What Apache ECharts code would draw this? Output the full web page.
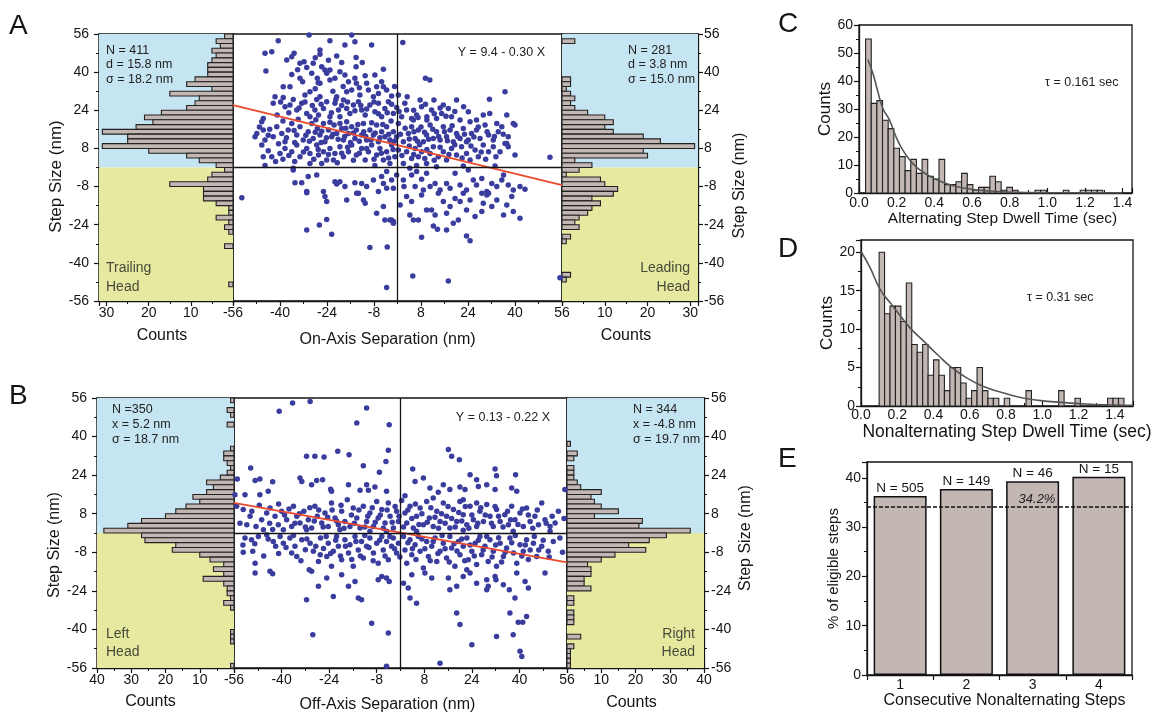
<!DOCTYPE html>
<html><head><meta charset="utf-8">
<script src="https://cdn.jsdelivr.net/npm/echarts@6/dist/echarts.min.js"></script>
<style>html,body{margin:0;padding:0;background:#fff}#c{width:1159px;height:715px}</style>
</head><body><div id="c"></div>
<script>
// ---------------- DATA ----------------
const stepTicks = [-56,-40,-24,-8,8,24,40,56];
const stepBinWidth = 2;
const stepBinCenters = [55,53,51,49,47,45,43,41,39,37,35,33,31,29,27,25,23,21,19,17,15,13,11,9,7,5,3,1,-1,-3,-5,-7,-9,-11,-13,-15,-17,-19,-21,-23,-25,-27,-29,-31,-33,-35,-37,-39,-41,-43,-45,-47,-49,-51,-53,-55];
const countsTrailingHead = [2,4,3,5,4,5,6,6,6,9, 11,5,15,8,9,11,17,21,19,23, 31,25,25,31,20,11,8,4,2,5, 6,15,7,7,7,4,1,1,4,1, 2,1,0,0,2,0,0,0,0,0, 0,0,1,0,0,0];
const countsLeadingHead = [0,3,0,0,0,0,0,0,0,2, 2,1,2,3,2,3,6,10,12,10, 12,19,23,31,19,20,3,7,4,1, 9,10,13,12,7,9,7,6,4,3, 4,0,2,1,0,0,0,0,0,0, 2,1,0,0,0,0];
const countsLeftHead = [1,0,2,1,0,2,0,0,0,0, 1,3,3,2,1,2,4,8,6,8, 12,10,14,17,20,27,31,38,27,26, 17,18,10,7,3,6,3,9,3,2, 2,1,3,1,0,0,0,0,1,1, 1,0,0,0,0,1];
const countsRightHead = [0,0,0,0,0,0,0,0,0,1, 0,3,2,0,2,2,2,3,4,10, 7,8,10,15,8,22,21,36,29,24, 18,23,14,10,6,7,7,5,5,7, 0,2,2,0,2,2,2,0,0,4, 0,2,1,1,1,1];

const fitOnAxis = [[-56,26.2],[56,-7.4]];
const fitOffAxis = [[-56,12.45],[56,-12.19]];

const scatterOnAxis = [
[-40.6,53.2],[-30.1,55.6],[-23,53.2],[-15.6,55.6],[-14.5,52.8],[-8.8,51.4],[1.8,52.4],[9.5,37.4],[11,36.7],
[-45.1,47.9],[-42.8,48.6],[-35.2,47.9],[-36,46.5],[-37.7,45.1],[-33.2,43.7],[-31.8,44.4],[-26.4,49.3],[-26.4,47.5],[-20.7,46.8],[-17.9,51.4],[-14.1,46.1],[-14.1,42.3],[-4.8,41.2],[-44.8,40.5],[-25.8,42.3],[-28.7,43.7],[-23,40.9],[-30.9,42],
[-38.9,33.9],[-36.6,33.9],[-41.7,29.7],[-38.9,29.4],[-33.2,37.4],[-32.3,36],[-29.2,39.5],[-27.3,37.4],[-27,35.6],[-26.4,35.3],[-24.7,40.9],[-24.1,39.5],[-23,36.7],[-21.3,37.4],[-19.6,40.2],[-17.9,38.8],[-16.7,36],[-14.5,37.4],[-14,35.3],[-15.6,32.5],[-17.3,31.8],[-10.5,35.3],[-9.9,32.5],[-7.1,33.9],[-5.4,36],[-4.8,33.9],[-7.7,38.8],[-3.7,32.5],[-2,30],[-8.2,29.7],[-12.8,30.4],[-20.7,29.7],[-29.8,31.8],[-31.5,30.4],[-26.4,29.7],[0.3,30.4],[3.3,29.7],[7.7,28.3],[12.4,28.3],[15.6,26.2],[20.1,28.3],[31.3,28.6],[36.6,31.8],[31.4,22.7],
[-45.7,20.6],[-46.2,19.2],[-42.3,26.9],[-38.3,25.5],[-36.6,26.2],[-34.3,24.1],[-32.6,26.9],[-30.9,22.7],[-29.8,21.3],[-28.1,24.1],[-26.9,22],[-25.2,24.8],[-24.1,27.6],[-23,21.3],[-21.3,26.9],[-20.1,24.1],[-19.6,21.3],[-18.4,28.3],[-17.3,24.8],[-16.2,22.7],[-15,26.2],[-13.3,27.6],[-12.2,24.1],[-11,22],[-9.4,26.2],[-7.7,23.4],[-6.5,26.9],[-5.4,21.3],[-4.3,24.8],[-3.1,27.6],[-1.4,22.7],[-0.3,25.2],[1.4,21.3],[3.1,24.1],[4.8,20.6],[6.5,22],[8.2,25.5],[10,21.3],[11.6,24.1],[13.3,20.6],[15,22.7],[17.3,24.8],[18.4,21.3],[21.3,19.9],[24.1,23.4],[26.9,19.9],[29.2,22],[33.8,18.5],[37.2,22],[40,17.8],[24.7,19.2],
[-48.5,12.9],[-47.9,14.3],[-45.7,15.7],[-45.1,11.5],[-46.2,9.4],[-42.3,12.9],[-41.1,17.1],[-39.4,14.3],[-38.3,10.8],[-37.2,15.7],[-36,18.5],[-34.3,13.6],[-33.2,17.1],[-32.1,11.5],[-30.4,15],[-29.2,18.5],[-28.7,12.2],[-27.3,16.4],[-26.4,13.6],[-25.2,18.5],[-24.7,10.8],[-23.5,15.7],[-22.4,12.9],[-21.6,17.8],[-20.7,14.3],[-19,16.4],[-18.4,11.5],[-17.3,19.2],[-16.7,14.3],[-15.6,17.1],[-14.5,12.2],[-14,15.7],[-12.2,13.6],[-11.6,18.5],[-10.5,11.5],[-9.4,15.7],[-8.2,13.6],[-7.1,17.8],[-6.5,10.8],[-5.4,15],[-4.3,12.9],[-3.7,17.1],[-2.6,11.5],[-1.4,15],[-0.3,12.9],[0.3,18.5],[2,10.8],[3.7,14.3],[4.8,17.1],[6,12.2],[7.1,15.7],[8.8,10.8],[9.9,13.6],[11.1,17.8],[12.2,12.2],[13.3,15],[14.5,11.5],[15.6,17.1],[16.7,12.9],[17.9,15.7],[19,10.8],[20.1,14.3],[21.3,12.2],[22.4,16.4],[24.1,11.5],[25.2,14.3],[26.9,15.7],[28.1,12.2],[29.8,17.8],[31,13.6],[32.6,11.5],[34.3,15],[35.5,17.1],[37.2,10.1],[37.7,12.9],[39.4,18.5],[5.4,19.9],[10,19.9],
[-45.7,4.5],[-42.8,4.5],[-40,5.9],[-38.3,8],[-36,6.6],[-34.3,9.4],[-33.2,4.5],[-30.9,8],[-29.8,5.9],[-27.5,9.4],[-26.9,5.2],[-25.2,6.6],[-24.1,3.1],[-23,8],[-21.3,5.9],[-19.6,8.7],[-18.4,4.5],[-16.7,6.6],[-15.6,9.4],[-14,5.2],[-12.2,8],[-11,3.1],[-9.9,6.6],[-8.8,9.4],[-7.1,5.2],[-6,8],[-4.8,3.1],[-3.7,6.6],[-2,9.4],[-0.9,4.5],[0.3,7.3],[2,1.7],[3.1,6.6],[4.8,3.8],[6,8],[7.1,4.5],[8.2,6.6],[9.3,3.8],[11.1,5.9],[12.2,8.7],[13.9,4.5],[15.6,6.6],[16.7,3.1],[18.4,8],[20.1,5.2],[21.8,8.7],[23.5,5.9],[24.7,3.1],[26.4,7.3],[27.5,4.5],[29.2,9.4],[31,6.6],[32.6,8.7],[34.9,6.6],[36.6,10.1],[37.7,8.7],[40,5.2],[51.9,4.3],[-45.1,0.8],[-35.5,-0.3],[-29.8,1.7],[-25.8,1.7],[-21.8,3.1],[-7.7,0.8],[-2.6,1.7],[6.5,0.8],[9.9,1.7],[13.3,0.3],[22.4,0.6],[33.2,0.6],
[-35.5,-1],[-30.4,-3.8],[-34.9,-6.4],[-32.6,-6.4],[-30.9,-10.1],[-27.5,-3.1],[-25.2,-10.1],[-21.3,-6],[-20.7,-6.9],[-19.6,-6],[-17.9,-8],[-14.5,-6.4],[-13.3,-10.8],[-12.2,-6.7],[-10.5,-8],[-8.2,-5.2],[-6.5,-10.1],[-5.4,-3.8],[-4.8,-6.7],[-3.7,-8.7],[-2,-5.2],[-1.4,-8.7],[-3.7,-1.7],[-0.3,-3.1],[2,-5.2],[2.2,-8],[4.2,-0.3],[4.8,-3.1],[6,-8],[6.5,-1.7],[8.2,-4.9],[8.8,-9.4],[9.9,-2.4],[11.1,-8],[12.8,-6.7],[14.5,-9.4],[16.7,-6.7],[17.9,-8.7],[19.6,-2.4],[21.3,-7.3],[23.5,-9.4],[24.1,-1],[25.8,-5.2],[26.9,-7.3],[28.7,-4.6],[30.4,-10.1],[32.1,-6.7],[33.8,-8],[35.5,-5.2],[36.1,-3.1],[37.7,-7.3],[39.4,-9.4],[41.7,-8],[43.4,-9.1],[31,-10.8],[-53,-12.7],
[-30.9,-10.6],[-24.7,-12.2],[-24.1,-14.3],[-17.3,-13.6],[-13.9,-10.8],[-11.6,-13.6],[-11,-15],[-7.1,-19.2],[-4.8,-16.4],[-4.3,-22],[-2.6,-22],[-1.4,-22.7],[0.9,-15.7],[3.1,-12.2],[4.2,-19.9],[4.8,-14.3],[7.1,-22],[8.2,-11.5],[9.9,-17.8],[11.6,-17.8],[12.8,-19.9],[13.9,-10.8],[15.6,-14.3],[16.7,-19.2],[17.9,-16.4],[19.6,-13],[21.3,-14.3],[22.4,-10.8],[23.5,-17.8],[24.7,-13.6],[26.4,-20.6],[28.7,-18.5],[29.2,-15],[30.4,-11.5],[32.1,-16.4],[33.8,-13.6],[36.1,-19.9],[37.2,-15.7],[39.4,-18.5],[41.7,-21.3],[38.9,-12.2],[28.7,-10.8],
[-30.9,-26.2],[-26.6,-24.1],[-24.1,-21.8],[-22.4,-28],[-9.4,-33.6],[-3.5,-33.4],[-2,-22],[-1.4,-23.4],[5.4,-22],[8.2,-29.3],[12.2,-24.5],[13.6,-25.9],[16.7,-26.2],[19,-23.4],[20.7,-22],[23.5,-28.7],[24.7,-30.7],[5.2,-45.5],[17.3,-47.6],[-3.7,-50.3],[55.3,-46.2],
[-47,17],[-44,13.5],[-43.5,16],[-40.5,10],[-39,19.5],[-37.8,12.5],[-35.2,15.5],[-35,10.5],[-33.8,20.2],[-31.2,13.5],[-30,11],[-28,14.8],[-27.8,20],[-26,10.5],[-25.8,15.2],[-24.2,12.5],[-23,19],[-22,14],[-20.2,11.8],[-19.6,18.5],[-18,13],[-17.6,16.5],[-16,10.5],[-15,14.5],[-13.5,18],[-13,11],[-11.5,15],[-10.8,13],[-9,11.5],[-8.8,18.8],[-7.6,14.5],[-6,12.5],[-5,18],[-3,14],[-2.2,19.5],[-1,11],[1,14],[2.6,16.5],[4,12],[5.6,15],[6.8,11],[8,17],[9.2,14.8],[10.6,11.8],[12,16],[14,13],[16,15],[17,11.2],[18.6,17.5],[20.5,13],[22.8,14],[23.5,10.8],[26,12.8],[27.5,17],[30.5,15],[33,13],[36,14],
[-41,22],[-39.8,27.5],[-37,23],[-35.5,28.5],[-33.5,25],[-31.5,27.5],[-29,26],[-27.5,28.5],[-26,26.5],[-22.5,23],[-21,28.5],[-19,26],[-17,27.5],[-14.5,23.8],[-12.5,26],[-10.5,24.5],[-8,27.5],[-6.5,22.5],[-3.5,23],[-2,26.5],[0.5,23.5],[2.5,27],[5.5,24],[7,21],[9.5,26.5],[12.5,22.5],[14.5,25],[16.5,21.5],[19.5,23.5],[22.5,25.5],
[-44,7],[-41.5,2.5],[-39,3.5],[-37,5],[-35,2.5],[-32,6.5],[-28.5,3.5],[-27,7.5],[-23.5,5.5],[-20.5,2],[-19,6],[-17,8.5],[-15,3],[-13,6],[-10.5,8],[-8,3.5],[-5.5,6],[-3,4],[-1.5,7.5],[1.5,5],[4,9],[5.5,5.5],[7.5,9.5],[10,7.5],[12.5,3],[14.5,8.5],[17.5,5.5],[19.5,9.5],[22,4],[25,9],[28.5,6.5],[30,3.5],[33.5,4.5],
[-28,33],[-22,32],[-18.5,34],[-13,33.5],[-11,38.5],[-6.5,31],[-1,34],[-36,39],[-34,41],[-19,44],[-12,44],[-28,46],[-23.5,45]
];

const scatterOffAxis = [
[-36.3,53.9],[-30.4,54.6],[-40.8,50.5],[-11.4,51.9],[-14.7,45.6],[-3.8,44.9],[-4.1,34.3],[-31.6,31.8],[-28.8,31.8],[-25.7,31.5],[-21.1,33.9],[-17.3,32.5],[-12.5,27.9],[-4.9,29.7],[-7.1,25.2],[16.1,34.6],[17.2,31.8],[19.8,30.4],[-50.4,27],[4.1,26.5],[31.8,26.5],[38.7,24.2],[32.3,23.8],[-54.9,22.4],[-48.9,21.8],[-47.3,22.4],[-43,21.3],[-33.8,22.8],[-33.2,21.4],[-29.9,20],[-28.2,21.8],[-26.2,22.1],[-23.5,18.2],[-23.2,17.3],[-17.5,20],[-11.4,20],[-8.6,19.1],[-13.6,17.7],[-10.8,17.7],[-4.7,17.3],[7.7,22.8],[4.9,21.4],[9.9,18.7],[14.4,20],[12.7,16.9],[16.6,18],[20,19.1],[21.7,18],[25.6,22.1],[26.2,19.3],[23.4,24.2],[29,20],[31.8,18],[37.4,18.7],[39.1,17.3],[55.3,18],[-55.7,15.9],[-52.3,15.9],[-47.3,15.9],[-44.5,17.3],[11,14.5],[21.1,13.8],[25.6,12.4],[1.5,15.5],[0.4,13.5],
[-55.1,11.1],[-52.9,9.7],[-50.6,6.9],[-48.6,2.7],[-46.7,5.5],[-45,8.3],[-43.9,10.4],[-42.2,6.9],[-41.1,3.4],[-40,9],[-38.3,5.5],[-36.6,2.7],[-36,11.1],[-34.9,6.9],[-33.8,4.1],[-32.5,9],[-31,5.5],[-29.9,2.1],[-28.8,11.1],[-28,6.9],[-26.5,4.1],[-25.4,8.3],[-24.3,2.7],[-23.2,12.4],[-22,6.2],[-20.9,3.4],[-19.8,9],[-18.7,4.8],[-17.9,13.8],[-17,2.7],[-15.9,10.4],[-14.7,6.2],[-13.6,2.1],[-12.5,11.1],[-11.4,4.8],[-10.3,8.3],[-9.1,2.7],[-8,13.1],[-7.5,6.2],[-6.3,9.7],[-5.2,4.1],[-4.1,12.4],[-3.5,6.9],[-2.4,2.1],[-1.3,9],[-0.7,4.8],[1.5,8.3],[2.1,4.1],[3.2,11.1],[4.3,2.1],[5.4,6.9],[6.6,10.4],[7.7,3.4],[8.8,13.1],[9.7,6.2],[11,2.7],[12.2,9],[13.3,4.8],[14.4,12.4],[15.5,6.9],[16.6,2.1],[17.8,9.7],[18.9,4.8],[20,13.1],[21.1,7.6],[22.3,3.4],[23.4,11.1],[24.5,5.5],[25.6,2.7],[26.7,9],[27.9,4.8],[29,11.8],[30.1,6.9],[31.2,2.7],[32.3,9.7],[33.5,4.8],[35.1,7.6],[36.3,3.4],[37.4,11.1],[38.5,5.5],[40.2,8.3],[41.3,2.7],[42.4,10.4],[43.6,4.8],[45.2,6.9],[46.4,3.4],[47.5,12.4],[48.6,5.5],[50.3,2.7],[52,4.1],[53.1,9],[-51.7,3.4],[-46.1,1.4],[-39.4,1.4],[-31.6,1.4],[-20.4,1.4],[-10.3,0.7],[-4.7,0.7],[5.4,0.7],[21.1,1.1],[37.9,0.7],[50.3,0.7],
[-52.3,-2.1],[-50.1,-2.8],[-52.9,-8],[-49.7,-7.6],[-48.9,-12.5],[-48.9,-16.6],[-43.9,-15.9],[-43,-16.9],[-47.8,-1.4],[-45,-0.7],[-42.8,-3.5],[-40.5,-1.4],[-42,-5.5],[-39.4,-4.2],[-37.2,-2.1],[-36.6,-8.3],[-35.5,-5.5],[-34.9,-9.7],[-33.2,-2.8],[-32,-6.9],[-30.4,-4.2],[-30.7,-15.2],[-29.3,-7.6],[-27.6,-11.8],[-26.9,-2.1],[-25.9,-6.4],[-24.8,-9.7],[-24.3,-4.2],[-23.2,-13.8],[-22.6,-7.6],[-21.5,-1.4],[-20.9,-5.5],[-19.8,-11.1],[-18.7,-2.8],[-17.5,-8.3],[-17,-4.9],[-15.9,-13.8],[-15.3,-1.4],[-14.2,-7],[-13.1,-3.5],[-12.5,-10.4],[-11.4,-5.5],[-10.3,-2.1],[-9.1,-8.3],[-8,-4.2],[-7.5,-12.5],[-6.3,-1.4],[-5.8,-7],[-4.7,-3.5],[-4.1,-11.1],[-3,-5.5],[-2.4,-2.1],[-1.3,-8.3],[-0.7,-4.2],[1,-1.4],[1.5,-7],[2.1,-12.5],[3.2,-2.8],[3.8,-9],[4.9,-4.9],[6,-1.4],[6.6,-7.6],[7.7,-14.5],[8.8,-3.5],[9.4,-9.7],[10.5,-5.5],[11.6,-2.1],[12.2,-11.8],[13.3,-7.6],[14.4,-4.2],[15.5,-10.4],[16.6,-1.4],[17.2,-6.2],[18.3,-13.8],[19.5,-3.5],[20,-9],[21.1,-5.5],[22.3,-2.1],[22.8,-11.1],[24,-7.6],[25.1,-4.2],[25.6,-13.1],[26.7,-1.4],[27.3,-9],[28.4,-5.5],[29.5,-11.8],[30.1,-2.8],[31.2,-7.6],[32.3,-13.8],[33.5,-4.2],[34.6,-9.7],[35.7,-6.2],[36.8,-2.1],[38,-8.3],[39.1,-12.5],[40.2,-4.9],[41.3,-7.6],[42.4,-2.8],[43.6,-7],[44.7,-4.2],[45.8,-9.7],[47.5,-5.5],[48.6,-16.6],[49.7,-7.6],[51.4,-3.5],[53.6,-2.1],
[-29.9,-15.9],[-27.6,-22.1],[-24.8,-18.7],[-22.6,-26.3],[-19.8,-17.3],[-17.5,-22.1],[-15.3,-20.1],[-31.6,-27.7],[-14.2,-27],[-13.1,-27.7],[-7.5,-19.4],[-6.3,-18],[-3.8,-20.1],[-4.7,-18.7],[-9.7,-37.4],[-4.1,-41.5],[-29.5,-42.2],[-4.7,-55.3],[1,-20.8],[2.6,-22.8],[3.2,-27],[5.4,-29.1],[3.8,-17.3],[8.2,-16.6],[10.5,-18.7],[13.3,-54],[16.6,-23.5],[18.9,-22.1],[18.9,-33.2],[20,-38],[22.3,-15.2],[24,-46.4],[25.6,-20.8],[29,-19.4],[29.5,-22.1],[31.8,-18],[32.1,-19.4],[32.3,-42.9],[34.6,-21.5],[36.6,-23.5],[38.5,-27],[36.8,-33.2],[37.9,-42.2],[39.6,-37],[40.2,-49.1],[40.8,-51.2],[41.1,-37],[41.9,-20.1],[42.4,-34.6],[43,-22.8],[39.1,-16.6],[29,-23.5],[23.4,-16.6],[21.1,-18],[16.1,-18.7],
[-50,9],[-47.5,11.5],[-44,4],[-43,1.5],[-41,12],[-39,7.5],[-37.5,10],[-35.5,4],[-34,8],[-32,2.5],[-30.5,10.5],[-29,5],[-27.5,9.5],[-26,2.5],[-24.5,6.5],[-23,9.5],[-21.5,5],[-20,11.5],[-19,2],[-16.5,7.5],[-15.5,4],[-14,9.5],[-12,2.5],[-11,7],[-9.5,10.5],[-8.5,4.5],[-6.8,7.5],[-5.8,2],[-4.5,9.5],[-2.8,4.5],[-1.8,11],[-0.5,7],[1,2.5],[2.5,9.5],[3.8,6],[5,12],[6.2,3.5],[7.2,8],[9,4.5],[10.2,10.5],[11.6,6.5],[12.8,2],[13.8,8],[15,4],[16,11],[17.2,6],[18.4,2.5],[19.6,8.5],[20.6,5],[21.8,11],[23,2],[24,7.5],[26,4],[27,10.5],[28.5,7.5],[30.6,4],[31.8,11],[33,7],[34.5,2.5],[36,9],[37,5.5],[39.5,3.5],[41,10],[43,7.5],[44.5,2],[46,9.5],[49,4],[51,7],
[-49,-4.5],[-46,-9.5],[-44.5,-2.5],[-41,-8.5],[-38.5,-6],[-36,-1],[-33.5,-11.5],[-31.5,-2.5],[-28.5,-5.5],[-27,-9],[-25,-1.5],[-23.5,-8.5],[-21.8,-3],[-20.2,-9.5],[-18.5,-5.5],[-16.4,-11],[-15,-3.5],[-13.5,-9.5],[-12,-1],[-10.6,-6],[-9.2,-11.5],[-7,-3],[-5.2,-9.5],[-3.6,-1.5],[-2,-6.5],[-0.2,-10],[2.5,-4],[4,-6.5],[5.2,-11],[7.2,-2.5],[8.2,-6.5],[10,-11.5],[11,-3.5],[12.6,-8.5],[14,-1],[15,-6.5],[16.4,-12],[18,-4.5],[19,-7.5],[20.6,-2.5],[21.6,-11.5],[23.4,-5],[24.8,-9.5],[26.2,-3],[27.8,-7],[29,-1.5],[30.8,-10],[32,-5],[33,-2],[34,-12],[35.2,-8],[37.4,-4],[38.6,-1],[40.8,-9.5],[42,-5],[43,-11],[45,-1.5],[46.5,-7],[48,-3],[50,-10],[-54,4],[-53,-5],[54.5,-8],[55,6]
];

const dwellBinWidth = 0.03;
const alternatingFirstBin = 0.035;
const alternatingCounts = [55,32,33,26,23,16,13,8,12,7, 12,6,5,12,3,3,4,7,3,1, 2,2,6,4,1,2,1,0,0,0, 1,1,0,0,0,1,0,0,1,1, 1,1];
const alternatingFit = [[0.047,47.7],[0.074,42.7],[0.1,36.2],[0.127,30.2],[0.162,26],[0.197,20],[0.233,15.3],[0.286,10.5],[0.339,7.5],[0.41,4.8],[0.48,3],[0.569,1.6],[0.693,0.7],[0.83,0.25],[1.0,0.1],[1.4,0.02]];
const nonalternatingFirstBin = 0.10;
const nonalternatingCounts = [20,12,13,13,11,16,8,7,8,4, 6,4,2,5,5,3,1,2,5,2, 1,1,0,1,0,0,0,2,0,0, 0,0,0,2,0,0,1,0,0,0, 0,0,1,1,1];
const nonalternatingFit = [[0,20.1],[0.05,18],[0.107,15.1],[0.162,13.4],[0.218,11.7],[0.273,10.1],[0.347,8.4],[0.421,6.7],[0.495,5.1],[0.587,3.6],[0.68,2.5],[0.772,1.8],[0.9,1],[1.05,0.57],[1.234,0.26],[1.419,0.13],[1.5,0.1]];

const consecutiveSteps = ['1','2','3','4'];
const eligiblePercent = [36.3,37.7,39.3,40.2];
const eligibleN = ['N = 505','N = 149','N = 46','N = 15'];
const chanceLevel = 34.2;

// ---------------- STYLE ----------------
const FONT = "'Liberation Sans', Arial, Helvetica, sans-serif";
const NARROW = "'Liberation Sans Narrow', 'Liberation Sans', Arial, sans-serif";
const INK = '#141414';
const barFill = '#c2b7b3';
const barStroke = '#222222';
const skyBlue = '#c6e5f3';
const paleYellow = '#e6eaa0';
const dotBlue = '#3a3c9e';
const fitRed = '#ec4a2c';

function hHist(counts){ return stepBinCenters.map((c,i)=>[counts[i], c-stepBinWidth/2, c+stepBinWidth/2]).filter(d=>d[0]>0); }
function vHist(first, counts){ return counts.map((c,i)=>[first+i*dwellBinWidth, first+(i+1)*dwellBinWidth, c]).filter(d=>d[2]>0); }
function rectStyle(){ return {fill:barFill, stroke:barStroke, lineWidth:1.1}; }
function renderH(params, api){
  const a = api.coord([0, api.value(1)]);
  const b = api.coord([api.value(0), api.value(2)]);
  return {type:'rect', shape:{x:Math.min(a[0],b[0]), y:Math.min(a[1],b[1]), width:Math.abs(b[0]-a[0]), height:Math.abs(b[1]-a[1])}, style:rectStyle()};
}
function renderV(params, api){
  const a = api.coord([api.value(0), 0]);
  const b = api.coord([api.value(1), api.value(2)]);
  return {type:'rect', shape:{x:Math.min(a[0],b[0]), y:Math.min(a[1],b[1]), width:Math.abs(b[0]-a[0]), height:Math.abs(b[1]-a[1])}, style:rectStyle()};
}

const stepFmt = v => stepTicks.indexOf(v) >= 0 ? String(v) : '';
const countFmt = v => (v > 0 && Math.abs(v % 10) < 1e-9) ? String(v) : '';
function stepFmtFor(step, digits){ return v => { const k=v/step; return Math.abs(k-Math.round(k))<1e-6 ? v.toFixed(digits) : ''; }; }

function axis(o){
  return {
    type: o.type || 'value', gridIndex: o.grid, min: o.min, max: o.max, interval: o.interval,
    inverse: !!o.inverse, position: o.position, data: o.data,
    show: o.show !== false,
    name: o.name || '', nameLocation: 'middle', nameGap: o.nameGap || 20, nameRotate: o.nameRotate,
    nameTextStyle: {color: INK, fontSize: o.nameSize || 16, fontFamily: FONT, padding: o.namePad || 0},
    axisLine: {show: o.line !== false, onZero: false, lineStyle: {color: INK, width: 1.3}},
    axisTick: {show: o.ticks !== false, inside: !!o.tickInside, length: 5, alignWithLabel: false, lineStyle: {color: INK, width: 1.2}},
    minorTick: {show: o.minor !== false && o.ticks !== false && o.type !== 'category', splitNumber: 2, length: 3, lineStyle: {color: INK, width: 1}},
    axisLabel: {show: o.labels !== false, color: INK, fontSize: o.labelSize || 14, fontFamily: FONT, margin: o.margin == null ? 8 : o.margin, formatter: o.fmt},
    splitLine: {show: false}, minorSplitLine: {show: false}
  };
}

function gridBox(l,t,w,h){ return {left:l, top:t, width:w, height:h, show:true, borderColor:INK, borderWidth:1.3, backgroundColor:'transparent', containLabel:false, outerBoundsMode:'none'}; }

const grids = [
  gridBox(99,34,134,267), gridBox(233,34,329,267), gridBox(562,34,136,267),
  gridBox(97,398,137,270), gridBox(234,398,333,270), gridBox(567,398,137,270),
  gridBox(859,25,273,168), gridBox(861,240,272,166), gridBox(867,462,265,213)
];

const xAxes = [
  axis({grid:0, inverse:true, min:0, max:31.8, interval:10, fmt:countFmt, name:'Counts', nameGap:27, margin:5, namePad:[0,8,0,0]}),
  axis({grid:1, min:-56, max:56, interval:16, fmt:stepFmt, name:'On-Axis Separation (nm)', nameGap:31, margin:5, namePad:[0,20,0,0]}),
  axis({grid:2, min:0, max:31.8, interval:10, fmt:countFmt, name:'Counts', nameGap:27, margin:5, namePad:[0,8,0,0]}),
  axis({grid:3, inverse:true, min:0, max:40, interval:10, fmt:countFmt, name:'Counts', nameGap:26, margin:5, namePad:[0,30,0,0]}),
  axis({grid:4, min:-56, max:56, interval:16, fmt:stepFmt, name:'Off-Axis Separation (nm)', nameGap:29, margin:5, namePad:[0,26,0,0]}),
  axis({grid:5, min:0, max:40, interval:10, fmt:countFmt, name:'Counts', nameGap:27, margin:5, namePad:[0,8,0,0]}),
  axis({grid:6, min:0, max:1.45, interval:0.2, fmt:stepFmtFor(0.2,1), name:'Alternating Step Dwell Time (sec)', nameGap:13, nameSize:15.5, labelSize:14, margin:3, tickInside:true, namePad:[0,0,0,14]}),
  axis({grid:7, min:0, max:1.5, interval:0.2, fmt:stepFmtFor(0.2,1), name:'Nonalternating Step Dwell Time (sec)', nameGap:9, nameSize:17.5, labelSize:14, margin:2, tickInside:true, namePad:[0,0,0,20]}),
  axis({grid:8, type:'category', data:consecutiveSteps, name:'Consecutive Nonalternating Steps', nameGap:15, nameSize:16, labelSize:14, margin:3, namePad:[0,0,0,10]})
];
const yAxes = [
  axis({grid:0, min:-56, max:56, interval:16, fmt:stepFmt, name:'Step Size (nm)', nameGap:33, nameSize:17, margin:10, namePad:[0,18,0,0]}),
  axis({grid:1, min:-56, max:56, interval:16, labels:false, ticks:false, line:false}),
  axis({grid:2, position:'right', min:-56, max:56, interval:16, fmt:stepFmt, name:'Step Size (nm)', nameGap:34, nameRotate:90, margin:6, namePad:[0,36,0,0]}),
  axis({grid:3, min:-56, max:56, interval:16, fmt:stepFmt, name:'Step Size (nm)', nameGap:34, margin:10, namePad:[0,24,0,0]}),
  axis({grid:4, min:-56, max:56, interval:16, labels:false, ticks:false, line:false}),
  axis({grid:5, position:'right', min:-56, max:56, interval:16, fmt:stepFmt, name:'Step Size (nm)', nameGap:34, nameRotate:90, margin:7, namePad:[0,10,0,0]}),
  axis({grid:6, min:0, max:60, interval:10, name:'Counts', nameGap:21, nameSize:17, labelSize:14, margin:6}),
  axis({grid:7, min:0, max:21.6, interval:5, fmt:stepFmtFor(5,0), name:'Counts', nameGap:23, nameSize:17, labelSize:14, margin:6}),
  axis({grid:8, min:0, max:43.2, interval:10, fmt:stepFmtFor(10,0), name:'% of eligible steps', nameGap:26, nameSize:15, labelSize:14, margin:6})
];

function bands(xi){
  return {type:'scatter', xAxisIndex:xi, yAxisIndex:xi, data:[], silent:true, z:1,
    markArea:{silent:true, data:[[{yAxis:0, itemStyle:{color:skyBlue}},{yAxis:56}],[{yAxis:-56, itemStyle:{color:paleYellow}},{yAxis:0}]]}};
}
function hSeries(xi, counts, name){
  return {type:'custom', name:name, xAxisIndex:xi, yAxisIndex:xi, renderItem:renderH, data:hHist(counts), encode:{x:0, y:[1,2]}, z:3, silent:true};
}
function scatterSeries(xi, data, fit){
  return [
    {type:'scatter', xAxisIndex:xi, yAxisIndex:xi, data:data, symbolSize:5.5, itemStyle:{color:dotBlue, opacity:1}, z:3, silent:true,
     markLine:{silent:true, symbol:['none','none'], label:{show:false}, emphasis:{disabled:true}, lineStyle:{color:INK, width:1.3, type:'solid'}, data:[{xAxis:0},{yAxis:0}]}},
    {type:'line', xAxisIndex:xi, yAxisIndex:xi, data:fit, symbol:'none', lineStyle:{color:fitRed, width:1.8}, z:4, silent:true}
  ];
}

function txt(x, y, text, size, align, extra){
  return {type:'text', x:x, y:y, z:100, zlevel:0, silent:true,
    style:{text:text, font: (extra && extra.font) || (size+'px '+FONT), fill:(extra && extra.fill) || '#222', textAlign:align||'left', textVerticalAlign:'middle'}};
}
const NF = '12.5px ' + NARROW;
const HEADC = '#4a4a3a';
const graphics = [
  txt(9, 26, 'A', 28, 'left', {fill:INK}), txt(9, 396, 'B', 28, 'left', {fill:INK}), txt(778, 24, 'C', 28, 'left', {fill:INK}), txt(778, 249, 'D', 28, 'left', {fill:INK}), txt(778, 459, 'E', 28, 'left', {fill:INK}),
  txt(106, 51, 'N = 411', 12, 'left', {font:NF}),
  txt(106, 65, 'd = 15.8 nm', 12, 'left', {font:NF}),
  txt(106, 80, 'σ = 18.2 nm', 12, 'left', {font:NF}),
  txt(106, 268, 'Trailing', 14, 'left', {fill:HEADC}),
  txt(106, 287, 'Head', 14, 'left', {fill:HEADC}),
  txt(628, 51, 'N = 281', 12, 'left', {font:NF}),
  txt(628, 65, 'd = 3.8 nm', 12, 'left', {font:NF}),
  txt(628, 80, 'σ = 15.0 nm', 12, 'left', {font:NF}),
  txt(690, 268, 'Leading', 14, 'right', {fill:HEADC}),
  txt(690, 287, 'Head', 14, 'right', {fill:HEADC}),
  txt(545, 53, 'Y = 9.4 - 0.30 X', 12, 'right', {font:NF}),
  txt(112, 410, 'N =350', 12, 'left', {font:NF}),
  txt(112, 425, 'x = 5.2 nm', 12, 'left', {font:NF}),
  txt(112, 440, 'σ = 18.7 nm', 12, 'left', {font:NF}),
  txt(106, 634, 'Left', 14, 'left', {fill:HEADC}),
  txt(106, 652, 'Head', 14, 'left', {fill:HEADC}),
  txt(633, 410, 'N = 344', 12, 'left', {font:NF}),
  txt(633, 425, 'x = -4.8 nm', 12, 'left', {font:NF}),
  txt(633, 440, 'σ = 19.7 nm', 12, 'left', {font:NF}),
  txt(695, 634, 'Right', 14, 'right', {fill:HEADC}),
  txt(695, 652, 'Head', 14, 'right', {fill:HEADC}),
  txt(550, 418, 'Y = 0.13 - 0.22 X', 12, 'right', {font:NF}),
  txt(1045, 83, 'τ = 0.161 sec', 12, 'left', {font:NF}),
  txt(1027, 298, 'τ = 0.31 sec', 12, 'left', {font:NF}),
  txt(1037, 499, '34.2%', 13, 'center', {font:'italic 13px '+FONT})
];

const series = [
  bands(0), hSeries(0, countsTrailingHead, 'Trailing Head'),
  ...scatterSeries(1, scatterOnAxis, fitOnAxis),
  bands(2), hSeries(2, countsLeadingHead, 'Leading Head'),
  bands(3), hSeries(3, countsLeftHead, 'Left Head'),
  ...scatterSeries(4, scatterOffAxis, fitOffAxis),
  bands(5), hSeries(5, countsRightHead, 'Right Head'),
  {type:'custom', xAxisIndex:6, yAxisIndex:6, renderItem:renderV, data:vHist(alternatingFirstBin, alternatingCounts), encode:{x:[0,1], y:2}, z:3, silent:true},
  {type:'line', xAxisIndex:6, yAxisIndex:6, data:alternatingFit, smooth:true, symbol:'none', lineStyle:{color:'#555', width:1.6}, z:4, silent:true},
  {type:'custom', xAxisIndex:7, yAxisIndex:7, renderItem:renderV, data:vHist(nonalternatingFirstBin, nonalternatingCounts), encode:{x:[0,1], y:2}, z:3, silent:true},
  {type:'line', xAxisIndex:7, yAxisIndex:7, data:nonalternatingFit, smooth:true, symbol:'none', lineStyle:{color:'#555', width:1.6}, z:4, silent:true},
  {type:'bar', xAxisIndex:8, yAxisIndex:8, data:eligiblePercent, barWidth:'80%', silent:true, z:2,
   itemStyle:{color:barFill, borderColor:'#111', borderWidth:1.5},
   label:{show:true, position:'top', distance:1, formatter:p=>eligibleN[p.dataIndex], fontSize:13.5, color:INK, fontFamily:FONT},
   markLine:{silent:true, symbol:['none','none'], label:{show:false}, emphasis:{disabled:true}, lineStyle:{color:'#111', type:[4,2], width:1.5}, data:[{yAxis:chanceLevel}]}}
];

const chart = echarts.init(document.getElementById('c'), null, {renderer:'canvas', width:1159, height:715});
chart.setOption({
  animation:false, backgroundColor:'#ffffff',
  textStyle:{fontFamily:FONT},
  grid:grids, xAxis:xAxes, yAxis:yAxes, series:series,
  graphic:{elements:graphics}
});
</script>
</body></html>
